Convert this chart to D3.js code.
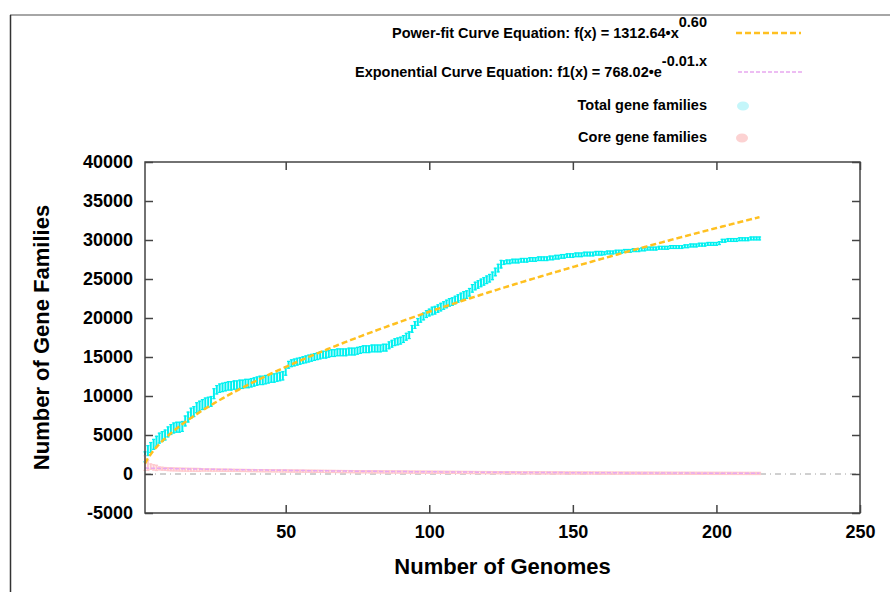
<!DOCTYPE html>
<html>
<head>
<meta charset="utf-8">
<script src="https://cdn.jsdelivr.net/npm/d3@7"></script>
<style>
  body { margin: 0; background: #fff; }
  svg text { font-family: "Liberation Sans", Arial, Helvetica, sans-serif; font-weight: bold; }
</style>
</head>
<body>
<div id="chart"></div>
<script>
// Values (genome index 1..215)
const totalFamilies = [
  2200, 3000, 3400, 3800, 4200, 4600, 4800, 5000, 5400, 5700,
  5900, 6000, 6000, 6100, 6800, 7300, 7800, 8000, 8500, 8700,
  8900, 9100, 9200, 9300, 10300, 10800, 11000, 11100, 11200, 11300,
  11300, 11400, 11400, 11500, 11500, 11600, 11600, 11700, 11800, 11900,
  12000, 12000, 12100, 12200, 12300, 12300, 12400, 12500, 12600, 13200,
  14000, 14200, 14300, 14400, 14500, 14600, 14700, 14800, 14900, 15000,
  15100, 15200, 15300, 15300, 15400, 15500, 15500, 15600, 15600, 15600,
  15600, 15700, 15700, 15700, 15800, 15900, 16000, 16000, 16000, 16100,
  16100, 16100, 16100, 16200, 16200, 16500, 16700, 16900, 17000, 17100,
  17300, 17600, 17800, 18600, 19100, 19500, 19900, 20200, 20500, 20700,
  20900, 21000, 21200, 21400, 21600, 21800, 22000, 22100, 22300, 22500,
  22700, 22900, 23000, 23300, 23800, 24100, 24300, 24500, 24700, 24900,
  25100, 25400, 25900, 26400, 26900, 27100, 27200, 27200, 27300, 27300,
  27300, 27400, 27400, 27400, 27500, 27500, 27500, 27600, 27600, 27600,
  27600, 27700, 27700, 27800, 27800, 27900, 27900, 28000, 28000, 28000,
  28100, 28100, 28100, 28200, 28200, 28200, 28200, 28300, 28300, 28300,
  28300, 28400, 28400, 28400, 28500, 28500, 28500, 28600, 28600, 28600,
  28700, 28700, 28700, 28800, 28800, 28900, 28900, 28900, 28900, 29000,
  29000, 29000, 29000, 29100, 29100, 29100, 29100, 29100, 29200, 29200,
  29300, 29300, 29300, 29400, 29400, 29400, 29500, 29500, 29500, 29500,
  29600, 29900, 29900, 30000, 30000, 30000, 30000, 30100, 30100, 30100,
  30100, 30200, 30200, 30200, 30200
];

const coreFamilies = [
  1400, 1100, 950, 850, 780, 720, 680, 650, 620, 600,
  590, 580, 570, 560, 550, 545, 540, 535, 530, 525,
  520, 515, 512, 505, 500, 498, 490, 486, 480, 478,
  470, 468, 462, 458, 455, 450, 446, 442, 440, 432,
  430, 425, 420, 418, 412, 410, 405, 400, 396, 390,
  385, 382, 378, 372, 370, 366, 360, 358, 352, 350,
  345, 342, 338, 335, 330, 328, 325, 320, 318, 315,
  310, 308, 305, 300, 298, 295, 292, 290, 286, 282,
  280, 276, 274, 270, 268, 265, 262, 260, 256, 254,
  250, 248, 245, 242, 240, 238, 235, 232, 230, 228,
  225, 222, 220, 218, 215, 212, 210, 208, 205, 202,
  200, 198, 196, 194, 192, 190, 188, 186, 184, 182,
  180, 178, 176, 174, 172, 170, 168, 166, 165, 163,
  160, 158, 157, 155, 153, 152, 150, 148, 147, 145,
  143, 142, 140, 139, 137, 136, 134, 133, 131, 130,
  128, 127, 126, 124, 123, 122, 120, 119, 118, 116,
  115, 114, 113, 112, 110, 109, 108, 107, 106, 105,
  104, 103, 102, 101, 100, 99, 98, 97, 96, 95,
  94, 93, 92, 91, 90, 90, 89, 88, 87, 86,
  86, 85, 84, 83, 83, 82, 81, 80, 80, 79,
  78, 78, 77, 76, 76, 75, 74, 74, 73, 72,
  72, 71, 71, 70, 70
];

// error bar half-heights as [value, count] runs
const totalErrRuns = [[700, 25], [600, 25], [500, 50], [550, 25], [300, 35], [250, 55]];
const coreErrRuns = [[1000, 1], [700, 1], [400, 3], [250, 15], [200, 195]];

// fitted curve parameters shown in the legend
const powA = 1312.64, powB = 0.60;
const expA = 768.02, expB = -0.01;

const xTicks = [50, 100, 150, 200, 250];
const yTicks = [-5000, 0, 5000, 10000, 15000, 20000, 25000, 30000, 35000, 40000];

const width = 890;
const height = 592;
const plot = { left: 145, right: 860, top: 162, bottom: 513 };

const svg = d3.select("#chart")
    .append("svg")
    .attr("width", width)
    .attr("height", height);

const x = d3.scaleLinear().domain([1, 250]).range([plot.left, plot.right]);
const y = d3.scaleLinear().domain([-5000, 40000]).range([plot.bottom, plot.top]);

const expandRuns = runs => runs.flatMap(([v, n]) => d3.range(n).map(() => v));
const totalErr = expandRuns(totalErrRuns);
const coreErr = expandRuns(coreErrRuns);

const totalData = totalFamilies.map((v, i) => ({ g: i + 1, v: v, e: totalErr[i] }));
const coreData = coreFamilies.map((v, i) => ({ g: i + 1, v: v, e: coreErr[i] }));

// outer frame lines (edge of the original figure)
svg.append("line")
    .attr("x1", 10).attr("x2", width).attr("y1", 15).attr("y2", 15)
    .attr("stroke", "#888").attr("stroke-width", 1.5);
svg.append("line")
    .attr("x1", 10.5).attr("x2", 10.5).attr("y1", 15).attr("y2", height)
    .attr("stroke", "#333").attr("stroke-width", 1.5);

// zero line
svg.append("line")
    .attr("x1", plot.left).attr("x2", plot.right)
    .attr("y1", y(0)).attr("y2", y(0))
    .attr("stroke", "#a0a0a0").attr("stroke-width", 1)
    .attr("stroke-dasharray", "6,4,1,4");

// error-bar style points
function drawBars(data, color, cls) {
    const g = svg.append("g").attr("class", cls);
    g.selectAll("line.stem")
        .data(data)
        .enter()
        .append("line")
        .attr("class", "stem")
        .attr("x1", d => x(d.g)).attr("x2", d => x(d.g))
        .attr("y1", d => y(d.v - d.e)).attr("y2", d => y(d.v + d.e))
        .attr("stroke", color).attr("stroke-width", 2);
    g.selectAll("line.capTop")
        .data(data)
        .enter()
        .append("line")
        .attr("class", "capTop")
        .attr("x1", d => x(d.g) - 1.6).attr("x2", d => x(d.g) + 1.6)
        .attr("y1", d => y(d.v + d.e) + 0.5).attr("y2", d => y(d.v + d.e) + 0.5)
        .attr("stroke", color).attr("stroke-width", 1.2);
    g.selectAll("line.capBot")
        .data(data)
        .enter()
        .append("line")
        .attr("class", "capBot")
        .attr("x1", d => x(d.g) - 1.6).attr("x2", d => x(d.g) + 1.6)
        .attr("y1", d => y(d.v - d.e) - 0.5).attr("y2", d => y(d.v - d.e) - 0.5)
        .attr("stroke", color).attr("stroke-width", 1.2);
}

drawBars(totalData, "#00f0f0", "total");
drawBars(coreData, "#ffc8cc", "core");

// fitted curves
const fitX = d3.range(1, 215.01, 0.5);
const line = d3.line().x(d => x(d[0])).y(d => y(d[1]));

svg.append("path")
    .datum(fitX.map(g => [g, powA * Math.pow(g, powB)]))
    .attr("fill", "none")
    .attr("stroke", "#ffc020")
    .attr("stroke-width", 2.5)
    .attr("stroke-dasharray", "6,3")
    .attr("d", line);

svg.append("path")
    .datum(fitX.map(g => [g, expA * Math.exp(expB * g)]))
    .attr("fill", "none")
    .attr("stroke", "#e8a8f0")
    .attr("stroke-width", 1.5)
    .attr("stroke-dasharray", "4,2")
    .attr("d", line);

// plot border
svg.append("rect")
    .attr("x", plot.left).attr("y", plot.top)
    .attr("width", plot.right - plot.left).attr("height", plot.bottom - plot.top)
    .attr("fill", "none").attr("stroke", "#444").attr("stroke-width", 1.5);

// axes, ticks pointing inward
const xAxis = d3.axisBottom(x).tickValues(xTicks).tickFormat(d3.format("d"))
    .tickSizeInner(-8).tickSizeOuter(0).tickPadding(12);
const yAxis = d3.axisLeft(y).tickValues(yTicks).tickFormat(d => String(d))
    .tickSizeInner(-8).tickSizeOuter(0).tickPadding(12);

svg.append("g")
    .attr("transform", `translate(0, ${plot.bottom})`)
    .call(xAxis);
svg.append("g")
    .attr("transform", `translate(${plot.left}, 0)`)
    .call(yAxis);

svg.append("g")
    .attr("transform", `translate(0, ${plot.top})`)
    .call(d3.axisTop(x).tickValues(xTicks).tickSizeInner(-8).tickSizeOuter(0).tickFormat(""));
svg.append("g")
    .attr("transform", `translate(${plot.right}, 0)`)
    .call(d3.axisRight(y).tickValues(yTicks).tickSizeInner(-8).tickSizeOuter(0).tickFormat(""));

svg.selectAll(".domain").remove();
svg.selectAll(".tick line").attr("stroke", "#444").attr("stroke-width", 1.5);
svg.selectAll(".tick text").style("font-size", "18px").attr("fill", "#000");

// axis titles
svg.append("text")
    .attr("x", (plot.left + plot.right) / 2)
    .attr("y", 574)
    .attr("text-anchor", "middle")
    .style("font-size", "22px")
    .text("Number of Genomes");

svg.append("text")
    .attr("transform", `translate(49, ${(plot.top + plot.bottom) / 2}) rotate(-90)`)
    .attr("text-anchor", "middle")
    .style("font-size", "22px")
    .text("Number of Gene Families");

// legend
const legend = svg.append("g").style("font-size", "14.5px");
const legendRight = 707;

const t1 = legend.append("text").attr("x", legendRight).attr("y", 38).attr("text-anchor", "end");
t1.append("tspan").text("Power-fit Curve Equation: f(x) = 1312.64•x");
t1.append("tspan").attr("dy", -11).text("0.60");

const t2 = legend.append("text").attr("x", legendRight).attr("y", 77).attr("text-anchor", "end");
t2.append("tspan").text("Exponential Curve Equation: f1(x) = 768.02•e");
t2.append("tspan").attr("dy", -11).text("-0.01.x");

legend.append("text").attr("x", legendRight).attr("y", 110).attr("text-anchor", "end").text("Total gene families");
legend.append("text").attr("x", legendRight).attr("y", 142).attr("text-anchor", "end").text("Core gene families");

legend.append("line")
    .attr("x1", 736).attr("x2", 801).attr("y1", 33).attr("y2", 33)
    .attr("stroke", "#ffc020").attr("stroke-width", 2.5).attr("stroke-dasharray", "6,3");
legend.append("line")
    .attr("x1", 738).attr("x2", 803).attr("y1", 72).attr("y2", 72)
    .attr("stroke", "#e8a8f0").attr("stroke-width", 1.5).attr("stroke-dasharray", "4,2");
legend.append("ellipse")
    .attr("cx", 743).attr("cy", 106).attr("rx", 6).attr("ry", 4.5)
    .attr("fill", "#c4f6fa");
legend.append("ellipse")
    .attr("cx", 742).attr("cy", 138).attr("rx", 6).attr("ry", 4.5)
    .attr("fill", "#fcd2d2");
</script>
</body>
</html>
